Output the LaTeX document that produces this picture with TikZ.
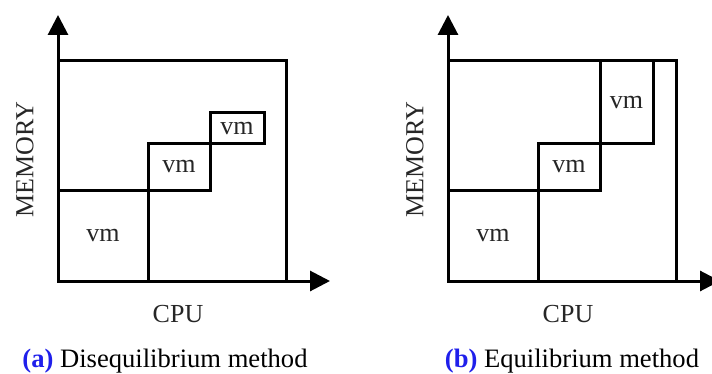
\documentclass[tikz,border=0pt]{standalone}
\usepackage{fontspec}
\setmainfont{Liberation Serif}
\usepackage{tikz}
\usetikzlibrary{arrows.meta,positioning}
\definecolor{capblue}{rgb}{0.12,0.12,0.92}

\begin{document}
\begin{tikzpicture}[x=0.5pt, y=-0.5pt,
  lbl/.style={font=\fontsize{13}{15}\selectfont, text=black!85, inner sep=0pt},
  vmbox/.style={draw, line width=1.5pt, lbl},
  frame/.style={draw, line width=1.5pt},
  axis/.style={line width=1.5pt, -{Triangle[length=10pt, width=10pt]}},
  captext/.style={font=\fontsize{13.3}{15}\selectfont, inner sep=0pt}]
\useasboundingbox (0,0) rectangle (712,374);
% panel a
\coordinate (oa) at (58,281);
\coordinate (ya) at (58,15);
\coordinate (xa) at (330,281);
\draw[frame] (58,61) rectangle (286,281);
\node[vmbox, minimum width=45pt, minimum height=45.5pt] (a1) at (103,235.5) {vm};
\node[vmbox, minimum width=31pt, minimum height=23pt]   (a2) at (179,167)   {vm};
\node[vmbox, minimum width=27pt, minimum height=15.5pt] (a3) at (237,128.5) {vm};
\draw[axis] (oa) -- (ya);
\draw[axis] (oa) -- (xa);
\node[lbl, rotate=90] (mema) at (25,160) {MEMORY};
\node[lbl, anchor=base] (cpua) at (178,322) {CPU};
\node[captext, anchor=base] (capa) at (165,367) {\textcolor{capblue}{\textbf{(a)}} Disequilibrium method};
% panel b
\coordinate (ob) at (448,281);
\coordinate (yb) at (448,15);
\coordinate (xb) at (720,281);
\draw[frame] (448,61) rectangle (676,281);
\node[vmbox, minimum width=45pt, minimum height=45.5pt] (b1) at (493,235.5) {vm};
\node[vmbox, minimum width=31pt, minimum height=23pt]   (b2) at (569,167)   {vm};
\node[vmbox, minimum width=26.5pt, minimum height=41.5pt] (b3) at (626.5,102.5) {vm};
\draw[axis] (ob) -- (yb);
\draw[axis] (ob) -- (xb);
\node[lbl, rotate=90] (memb) at (415,160) {MEMORY};
\node[lbl, anchor=base] (cpub) at (568,322) {CPU};
\node[captext, anchor=base] (capb) at (572,367) {\textcolor{capblue}{\textbf{(b)}} Equilibrium method};
\end{tikzpicture}
\end{document}
